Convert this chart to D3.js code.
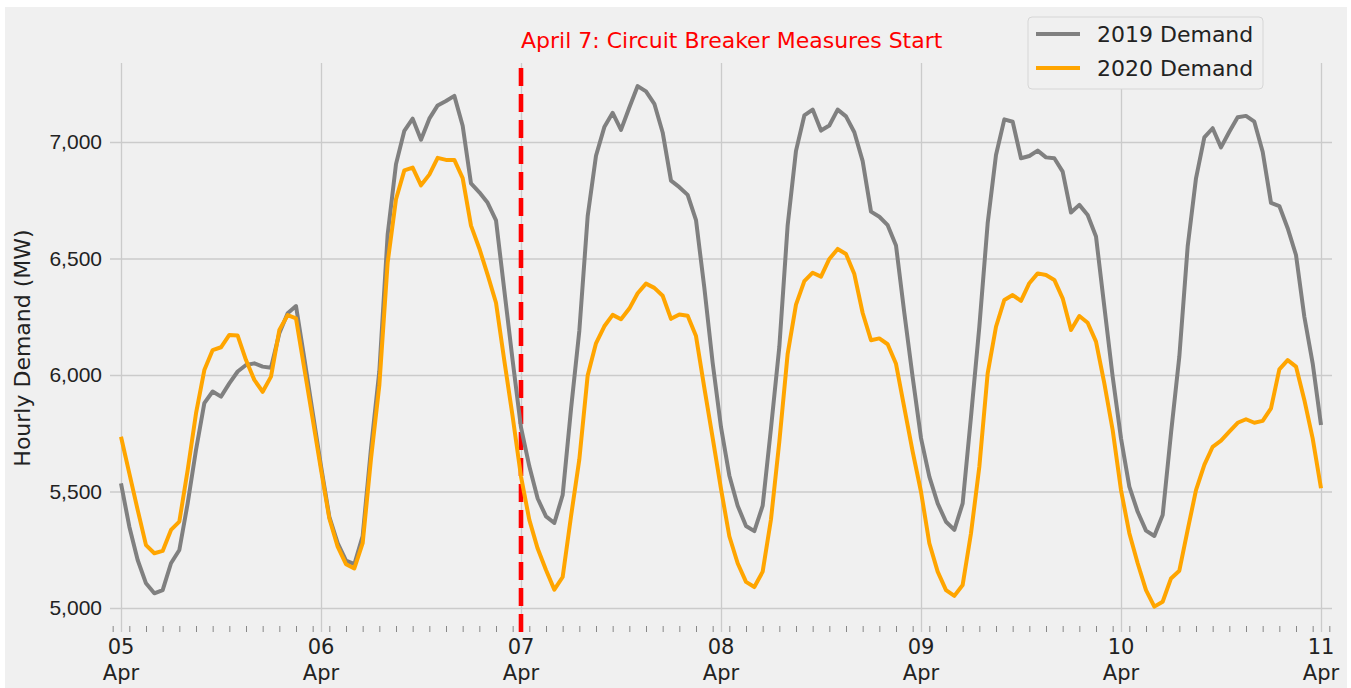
<!DOCTYPE html>
<html>
<head>
<meta charset="utf-8">
<script src="https://cdn.jsdelivr.net/npm/d3@7"></script>
<style>
  html, body { margin: 0; padding: 0; background: #ffffff; }
  svg { display: block; font-family: "DejaVu Sans", sans-serif; }
</style>
</head>
<body>
<div id="chart"></div>
<script>
// hourly demand, 05 Apr 00:00 to 11 Apr 00:00 (145 points)
const demand2019 = [
  5535, 5349, 5206, 5106, 5063, 5077, 5192, 5249, 5449, 5678, 5879, 5929, 5907, 5964, 6015, 6043, 6050, 6036, 6031, 6179, 6265, 6296, 6070, 5840,
  5609, 5391, 5278, 5203, 5188, 5309, 5685, 6016, 6603, 6905, 7048, 7100, 7010, 7100, 7157, 7176, 7198, 7070, 6822, 6784, 6739, 6664, 6363, 6061,
  5775, 5608, 5470, 5393, 5365, 5485, 5853, 6190, 6681, 6941, 7064, 7125, 7052, 7148, 7240, 7217, 7164, 7041, 6834, 6806, 6773, 6665, 6374, 6052,
  5776, 5569, 5439, 5352, 5330, 5439, 5772, 6121, 6643, 6962, 7114, 7139, 7049, 7071, 7139, 7110, 7042, 6918, 6701, 6679, 6643, 6556, 6266, 5990,
  5729, 5564, 5449, 5370, 5335, 5449, 5821, 6207, 6651, 6944, 7097, 7087, 6930, 6940, 6963, 6934, 6930, 6873, 6697, 6730, 6687, 6594, 6293, 5993,
  5728, 5521, 5413, 5332, 5309, 5399, 5750, 6079, 6551, 6844, 7020, 7059, 6977, 7044, 7106, 7112, 7087, 6958, 6739, 6725, 6630, 6515, 6250, 6050,
  5785
];
const demand2020 = [
  5735, 5578, 5421, 5270, 5235, 5245, 5335, 5371, 5592, 5835, 6021, 6107, 6119, 6172, 6169, 6064, 5979, 5928, 5993, 6193, 6257, 6243, 6027, 5811,
  5594, 5384, 5263, 5188, 5170, 5278, 5640, 5956, 6483, 6754, 6878, 6890, 6814, 6860, 6932, 6923, 6923, 6845, 6641, 6543, 6430, 6310, 6061, 5821,
  5564, 5378, 5255, 5163, 5079, 5133, 5393, 5638, 5998, 6136, 6209, 6258, 6239, 6285, 6351, 6392, 6374, 6340, 6241, 6260, 6254, 6167, 5945, 5730,
  5511, 5308, 5192, 5112, 5090, 5156, 5381, 5714, 6091, 6302, 6403, 6439, 6422, 6498, 6541, 6519, 6433, 6266, 6149, 6157, 6132, 6048, 5859, 5671,
  5499, 5278, 5156, 5077, 5052, 5099, 5321, 5606, 6007, 6207, 6322, 6343, 6318, 6394, 6436, 6429, 6408, 6329, 6193, 6253, 6224, 6143, 5964, 5764,
  5506, 5321, 5192, 5077, 5006, 5027, 5127, 5160, 5335, 5506, 5614, 5692, 5718, 5757, 5795, 5810, 5795, 5803, 5857, 6024, 6064, 6036, 5893, 5728,
  5514
];
const seriesNames = ["2019 Demand", "2020 Demand"];
const yTicks = [5000, 5500, 6000, 6500, 7000];
const startDate = new Date(2020, 3, 5);
const eventDate = new Date(2020, 3, 7);
const eventLabel = "April 7: Circuit Breaker Measures Start";
const yLabel = "Hourly Demand (MW)";

const width = 1351, height = 688;
const plotLeft = 110, plotRight = 1332, plotTop = 63, plotBottom = 632;
const colors = ["#808080", "#ffa500"];
const gridColor = "#cbcbcb";

const hour = 3600 * 1000;
const dates = demand2019.map((d, i) => new Date(+startDate + i * hour));
const endDate = dates[dates.length - 1];

const x = d3.scaleTime()
    .domain([new Date(+startDate - 1.32 * hour), new Date(+endDate + 1.32 * hour)])
    .range([plotLeft, plotRight]);

const y = d3.scaleLinear()
    .domain([4897, 7339])
    .range([plotBottom, plotTop]);

const svg = d3.select("#chart").append("svg")
    .attr("width", width)
    .attr("height", height);

// figure background (white sliver round the edge like the saved png)
svg.append("rect")
    .attr("x", 5).attr("y", 7)
    .attr("width", width - 9).attr("height", height - 7)
    .attr("fill", "#f0f0f0");

// horizontal grid + y tick labels
svg.append("g")
    .attr("transform", `translate(${plotLeft},0)`)
    .call(d3.axisLeft(y).tickValues(yTicks).tickSize(-(plotRight - plotLeft)).tickPadding(8).tickFormat(d3.format(",")))
    .call(g => g.select(".domain").remove())
    .call(g => g.selectAll(".tick line").attr("stroke", gridColor).attr("stroke-width", 1.3))
    .call(g => g.selectAll(".tick text").attr("fill", "#222").style("font-size", "21px"));

// vertical grid, one per day
const dayTicks = d3.timeDay.range(startDate, new Date(+endDate + 1));
svg.append("g")
    .attr("transform", `translate(0,${plotBottom})`)
    .call(d3.axisBottom(x).tickValues(dayTicks).tickSize(-(plotBottom - plotTop)).tickFormat(""))
    .call(g => g.select(".domain").remove())
    .call(g => g.selectAll(".tick line").attr("stroke", gridColor).attr("stroke-width", 1.3));

// minor ticks every two hours
const minorTicks = d3.range(-1, 146, 2).map(h => new Date(+startDate + h * hour));
svg.append("g")
    .attr("transform", `translate(0,${plotBottom - 6})`)
    .call(d3.axisBottom(x).tickValues(minorTicks).tickSize(6).tickFormat(""))
    .call(g => g.select(".domain").remove())
    .call(g => g.selectAll(".tick line").attr("stroke", "#888").attr("stroke-width", 1));

// day labels, two lines
const dayFmt = d3.timeFormat("%d"), monFmt = d3.timeFormat("%b");
const dayLabels = svg.append("g")
    .selectAll("text")
    .data(dayTicks)
    .join("text")
    .attr("text-anchor", "middle")
    .attr("fill", "#222")
    .style("font-size", "21px");
dayLabels.append("tspan").attr("x", d => x(d)).attr("y", 654).text(d => dayFmt(d));
dayLabels.append("tspan").attr("x", d => x(d)).attr("y", 680).text(d => monFmt(d));

// y axis label
svg.append("text")
    .attr("transform", `translate(30,348) rotate(-90)`)
    .attr("text-anchor", "middle")
    .attr("fill", "#222")
    .style("font-size", "22px")
    .text(yLabel);

// event line
svg.append("line")
    .attr("x1", x(eventDate)).attr("x2", x(eventDate))
    .attr("y1", plotBottom).attr("y2", plotTop)
    .attr("stroke", "#ff0000")
    .attr("stroke-width", 4.6)
    .attr("stroke-dasharray", "18,8");

svg.append("text")
    .attr("x", x(eventDate))
    .attr("y", 48)
    .attr("fill", "#ff0000")
    .style("font-size", "22px")
    .text(eventLabel);

// demand lines
const line = d3.line()
    .x((d, i) => x(dates[i]))
    .y(d => y(d));

[demand2019, demand2020].forEach((values, k) => {
    svg.append("path")
        .datum(values)
        .attr("fill", "none")
        .attr("stroke", colors[k])
        .attr("stroke-width", 4)
        .attr("stroke-linejoin", "round")
        .attr("d", line);
});

// legend
const legend = svg.append("g").attr("transform", "translate(1028,17)");
legend.append("rect")
    .attr("width", 235).attr("height", 72)
    .attr("rx", 4)
    .attr("fill", "#f0f0f0")
    .attr("stroke", "#d6d6d6");
seriesNames.forEach((name, k) => {
    const row = legend.append("g").attr("transform", `translate(0,${17 + k * 34})`);
    row.append("line")
        .attr("x1", 8).attr("x2", 52)
        .attr("stroke", colors[k])
        .attr("stroke-width", 4);
    row.append("text")
        .attr("x", 69).attr("y", 8)
        .attr("fill", "#222")
        .style("font-size", "22px")
        .text(name);
});
</script>
</body>
</html>
